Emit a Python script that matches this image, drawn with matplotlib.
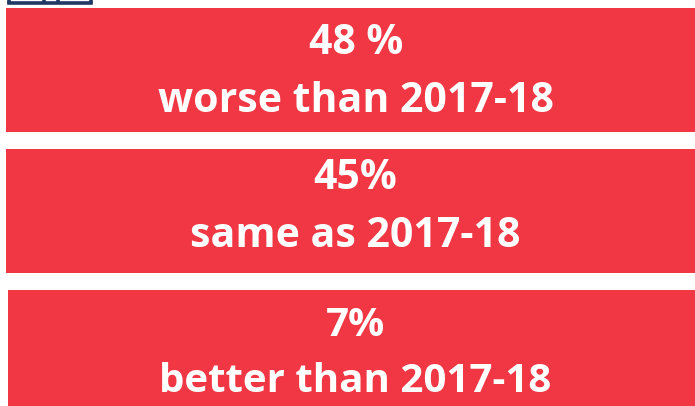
import matplotlib.pyplot as plt
from matplotlib.patches import Rectangle

percents = ['48 %', '45%', '7%']
captions = ['worse than 2017-18', 'same as 2017-18', 'better than 2017-18']

W, H = 695, 406
red = '#f13743'
navy = '#1f3864'

fig = plt.figure(figsize=((W + 0.01) / 100, (H + 0.01) / 100), dpi=100)
ax = fig.add_axes([0, 0, 1, 1])
ax.set_xlim(0, W)
ax.set_ylim(H, 0)
ax.axis('off')

# (left, top, bottom) of each band, in pixels
bands = [(6, 8, 132), (6, 149, 273), (8, 290, 406)]
# text centres: x, first line y, second line y, font size
rows = [(356, 43, 101, 29.5), (355.5, 178, 236, 29.5), (355.5, 325, 381, 29)]

for (x0, y0, y1), (cx, y_a, y_b, fs), p, c in zip(bands, rows, percents, captions):
    ax.add_patch(Rectangle((x0, y0), W - x0, y1 - y0, fc=red, ec='none'))
    ax.text(cx, y_a, p, color='w', fontsize=fs, fontweight='bold',
            family='Open Sans', ha='center', va='center')
    ax.text(cx, y_b, c, color='w', fontsize=fs, fontweight='bold',
            family='Open Sans', ha='center', va='center')

# bottom edge of the table cut off above the bands
ax.plot([9, 91], [3, 3], color=navy, lw=2.6, solid_capstyle='projecting')
for x in [9, 44, 58, 91]:
    ax.plot([x, x], [0, 3], color=navy, lw=2.6, solid_capstyle='butt')

fig.savefig('out.png', dpi=100)
